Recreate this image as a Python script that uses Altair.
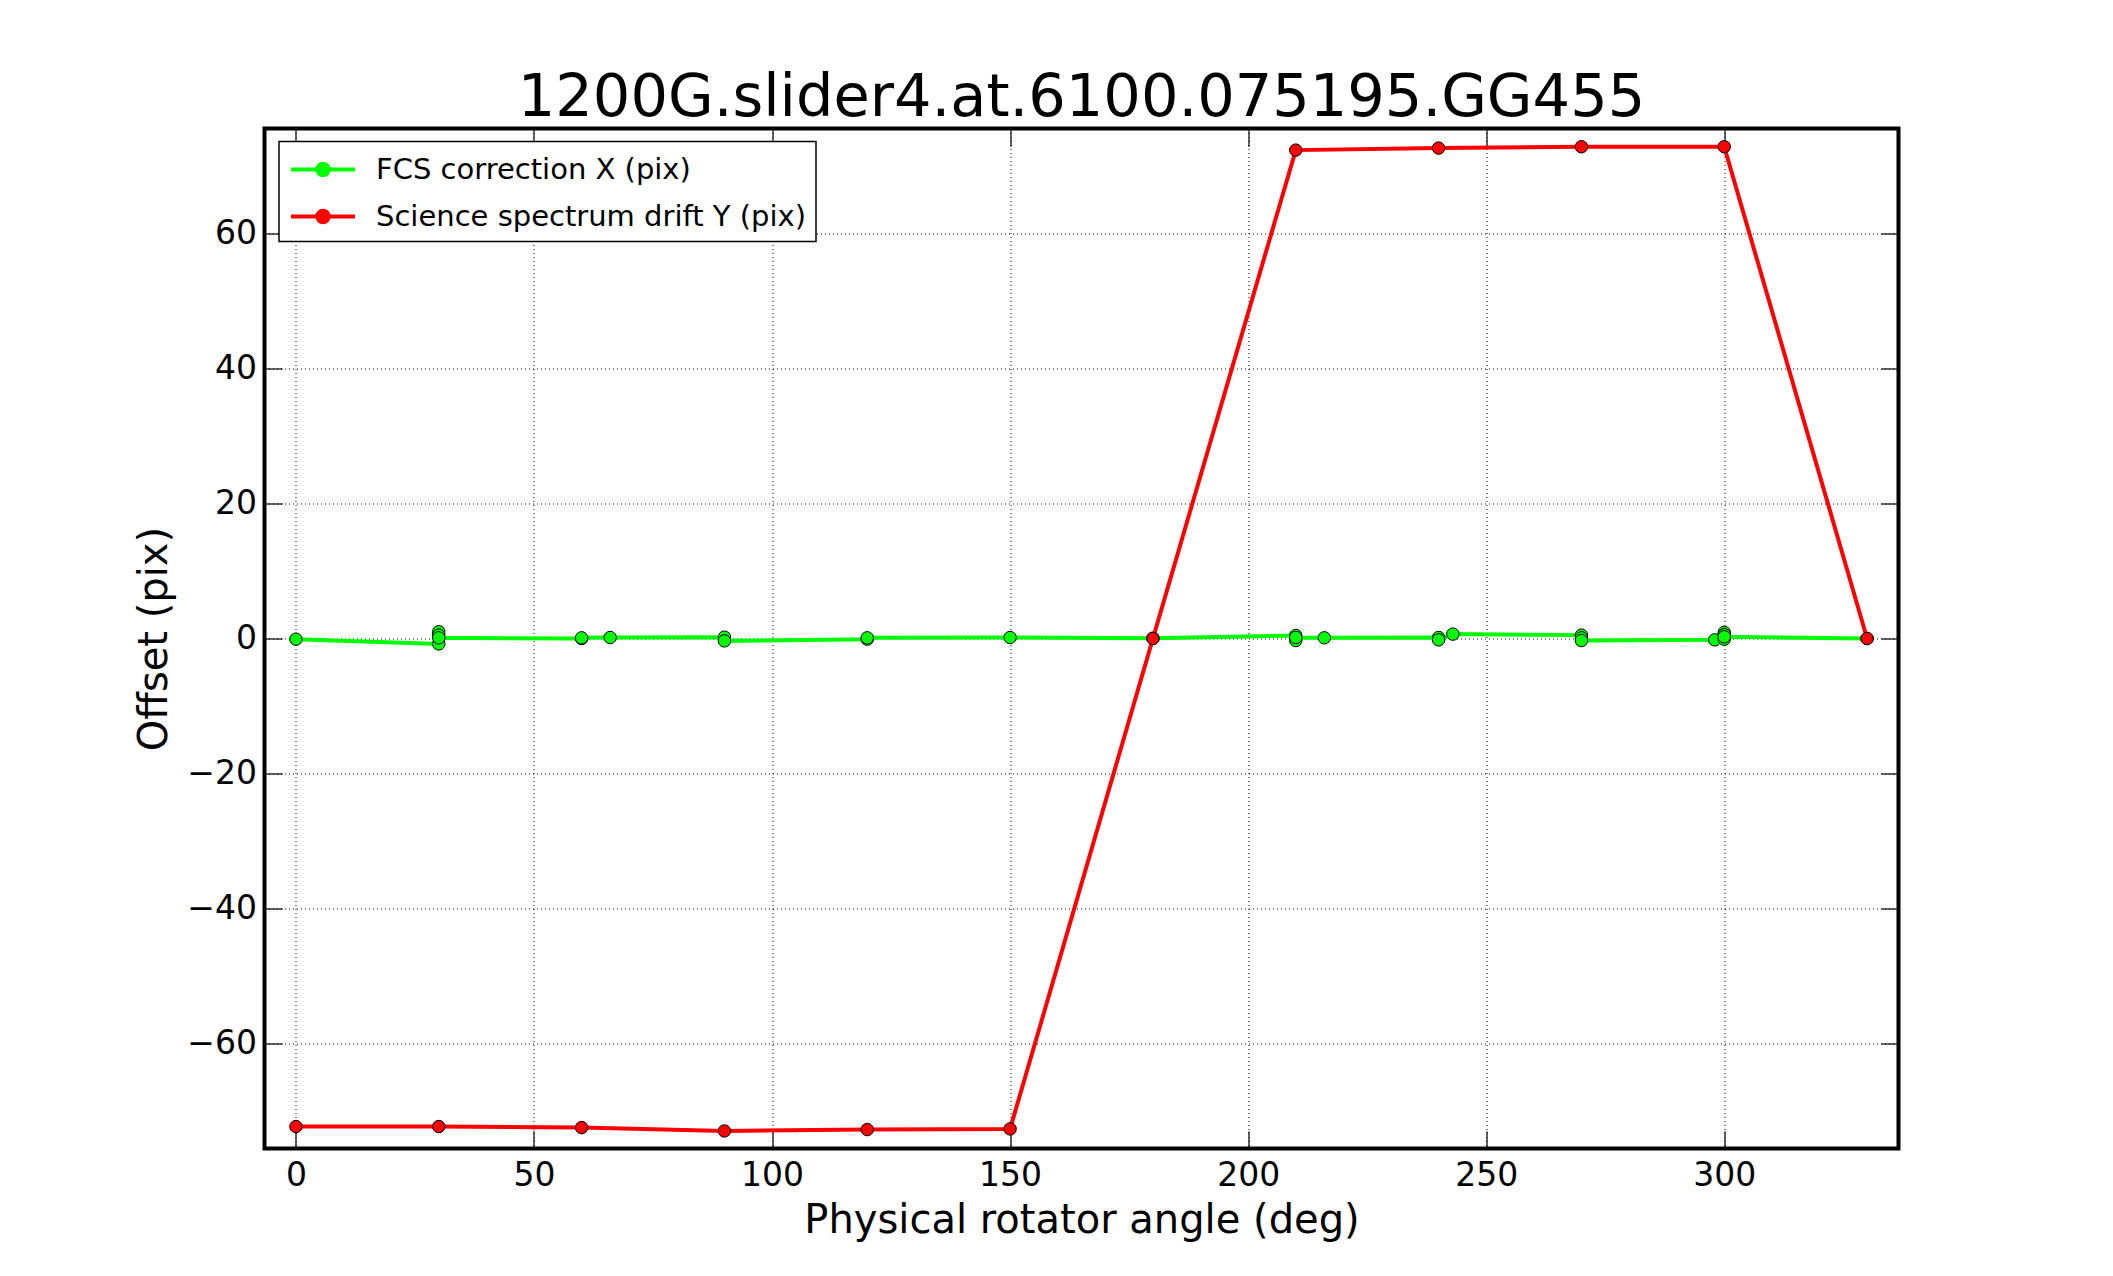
import altair as alt
import pandas as pd

# ---------------- data ----------------
series_names = ["FCS correction X (pix)", "Science spectrum drift Y (pix)"]

fcs_angle = [0, 30, 30, 30, 30, 60, 60, 66, 90, 90, 120, 120, 150, 180,
             210, 210, 210, 216, 240, 240, 243, 270, 270, 270, 298,
             300, 300, 300, 300, 330]
fcs_x = [-0.1, -0.8, 1.0, 0.5, 0.1, 0.0, 0.1, 0.15, 0.2, -0.35, -0.1, 0.1, 0.15, 0.05,
         0.45, -0.3, 0.15, 0.1, 0.15, -0.2, 0.65, 0.5, 0.1, -0.3, -0.2,
         0.9, 0.55, -0.1, 0.25, 0.0]

sci_angle = [0, 30, 60, 90, 120, 150, 180, 210, 240, 270, 300, 330]
sci_y = [-72.25, -72.25, -72.4, -72.9, -72.7, -72.6, 0.0, 72.3, 72.6, 72.8, 72.8, 0.0]

x_ticks = [0, 50, 100, 150, 200, 250, 300]
y_ticks = [-60, -40, -20, 0, 20, 40, 60]

title_text = "1200G.slider4.at.6100.075195.GG455"
x_title = "Physical rotator angle (deg)"
y_title = "Offset (pix)"

rows = []
for i, (a, v) in enumerate(zip(fcs_angle, fcs_x)):
    rows.append({"series": series_names[0], "angle": a, "value": v, "idx": i})
for i, (a, v) in enumerate(zip(sci_angle, sci_y)):
    rows.append({"series": series_names[1], "angle": a, "value": v, "idx": i})
df = pd.DataFrame(rows)

# ---------------- styling ----------------
W, H = 1634, 1020
TICK = 17.7
FONT = "DejaVu Sans"
COLORS = ["#00ff00", "#ff0000"]

xs = alt.Scale(domain=[-6.6, 336.6], nice=False, zero=False)
ys = alt.Scale(domain=[-75.5, 75.5], nice=False, zero=False)

# legend glyph: a line with a marker in its middle
sym_path = ("M-2,0L2,0M-0.36,0A0.36,0.36,0,1,1,0.36,0"
            "A0.36,0.36,0,1,1,-0.36,0Z")

color = alt.Color(
    "series:N",
    scale=alt.Scale(domain=series_names, range=COLORS),
    legend=alt.Legend(
        title=None, orient="none", legendX=14.5, legendY=13,
        direction="vertical", fillColor="white", strokeColor="black",
        padding=10, cornerRadius=0, labelFont=FONT, labelFontSize=29,
        labelColor="black", labelOffset=35, rowPadding=14, labelLimit=1000,
        symbolType=sym_path, symbolSize=1024, symbolStrokeWidth=4,
        symbolOffset=16,
    ),
)
fill = alt.Fill("series:N", scale=alt.Scale(domain=series_names, range=COLORS),
                legend=None)

main_x = alt.Axis(orient="bottom", values=x_ticks, grid=True, ticks=False, tickSize=0,
                  domain=False, labelFontSize=33, labelPadding=11, labelFont=FONT,
                  title=x_title, titleFontSize=40, titlePadding=8)
main_y = alt.Axis(orient="left", values=y_ticks, grid=True, ticks=False, tickSize=0,
                  domain=False, labelFontSize=33, labelPadding=8, labelFont=FONT,
                  title=y_title, titleFontSize=40, titlePadding=12)


def inner(orient, vals):
    return alt.Axis(orient=orient, values=vals, labels=False, grid=False,
                    domain=False, ticks=True, tickSize=TICK, tickColor="black",
                    tickWidth=1.2, offset=-TICK, title=None)


base = alt.Chart(df)
green = base.transform_filter(alt.datum.series == series_names[0])
red = base.transform_filter(alt.datum.series == series_names[1])

line_mark = dict(strokeWidth=4)
pt_mark = dict(filled=True, shape="circle", size=155, stroke="black",
               strokeWidth=1, opacity=1)

g_line = green.mark_line(**line_mark).encode(
    x=alt.X("angle:Q", scale=xs, axis=main_x),
    y=alt.Y("value:Q", scale=ys, axis=main_y),
    color=color, order="idx:Q")
g_pts = green.mark_point(**pt_mark).encode(
    x=alt.X("angle:Q", scale=xs, axis=inner("top", x_ticks)),
    y=alt.Y("value:Q", scale=ys, axis=inner("right", y_ticks)),
    fill=fill)
r_line = red.mark_line(**line_mark).encode(
    x=alt.X("angle:Q", scale=xs, axis=inner("bottom", x_ticks)),
    y=alt.Y("value:Q", scale=ys, axis=inner("left", y_ticks)),
    color=color, order="idx:Q")
r_pts = red.mark_point(**pt_mark).encode(
    x=alt.X("angle:Q", scale=xs, axis=None),
    y=alt.Y("value:Q", scale=ys, axis=None),
    fill=fill)

chart = alt.layer(g_line, g_pts, r_line, r_pts).resolve_axis(
    x="independent", y="independent"
).properties(
    width=W, height=H,
    background="white",
    autosize=alt.AutoSizeParams(type="none"),
    padding={"left": 256.5, "top": 120.5, "right": 200, "bottom": 115},
    title=alt.TitleParams(title_text, fontSize=59, font=FONT, fontWeight="normal",
                          color="black", anchor="middle", frame="group",
                          offset=0),
).configure_view(
    stroke="black", strokeWidth=4
).configure_axis(
    gridColor="black", gridDash=[1, 3], gridWidth=1, gridOpacity=1,
    labelColor="black", titleColor="black", titleFont=FONT,
    titleFontWeight="normal",
).configure_legend(
    strokeWidth=1.5
)

chart.save("out.html", embed_options={"renderer": "svg", "actions": False})
